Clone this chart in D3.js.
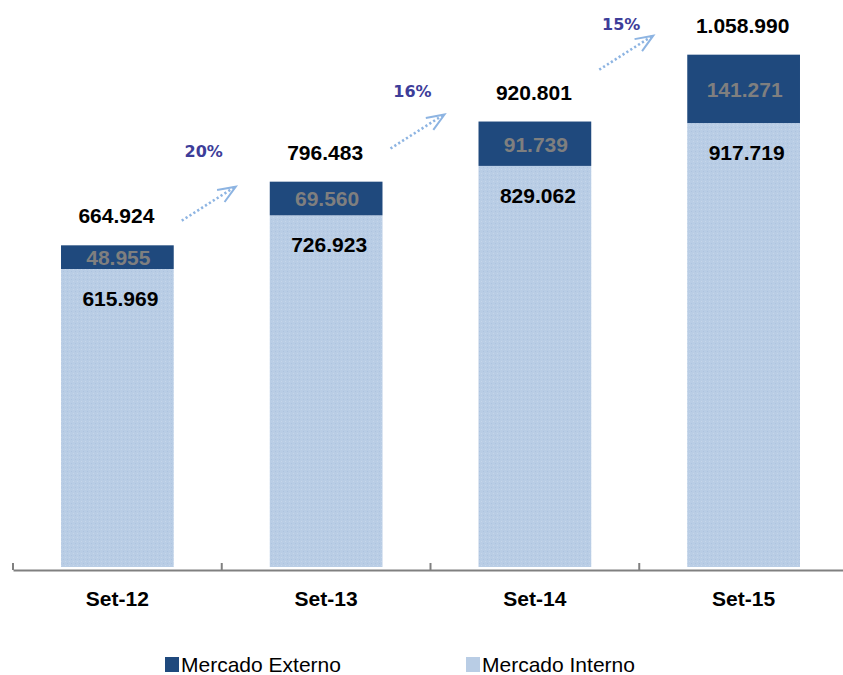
<!DOCTYPE html>
<html>
<head>
<meta charset="utf-8">
<script src="https://cdn.jsdelivr.net/npm/d3@7"></script>
<style>
  body { margin: 0; background: #fff; }
  svg { display: block; }
</style>
</head>
<body>
<svg id="svg" width="843" height="675"></svg>
<script>
var categories = ["Set-12", "Set-13", "Set-14", "Set-15"]
var interno = [615969, 726923, 829062, 917719]
var externo = [48955, 69560, 91739, 141271]
var totals = [664924, 796483, 920801, 1058990]
var growth = ["20%", "16%", "15%"]
var seriesNames = ["Mercado Externo", "Mercado Interno"]

var fmt = d3.formatLocale({ decimal: ",", thousands: ".", grouping: [3], currency: ["", ""] }).format(",d")

var svg = d3.select("#svg")

var colors = { externo: "#1f497d", interno: "#b9cde5", arrow: "#8db4e2" }

// light dotted texture for the interno bars
var defs = svg.append("defs")
var pat = defs.append("pattern")
    .attr("id", "dots")
    .attr("width", 4)
    .attr("height", 4)
    .attr("patternUnits", "userSpaceOnUse")
pat.append("rect").attr("width", 4).attr("height", 4).attr("fill", colors.interno)
pat.append("rect").attr("x", 1).attr("y", 1).attr("width", 1).attr("height", 1).attr("fill", "#c6d6ea")
pat.append("rect").attr("x", 3).attr("y", 3).attr("width", 1).attr("height", 1).attr("fill", "#adc3df")

var x = d3.scaleBand()
    .domain(categories)
    .range([13, 848])
    .paddingInner(0.46)
    .paddingOuter(0.23)

var y = d3.scaleLinear()
    .domain([0, 1172000])
    .range([567, 0])

var data = categories.map(function (c, i) {
    return { cat: c, interno: interno[i], externo: externo[i], total: totals[i] }
})

function cx(d) {
    return x(d.cat) + x.bandwidth() / 2
}

function label(sel) {
    return sel.attr("text-anchor", "middle")
        .attr("font-family", "Liberation Sans, Arial, sans-serif")
        .attr("font-weight", "bold")
        .attr("font-size", 21)
}

var bars = svg.append("g").selectAll(".bar")
    .data(data)
    .enter().append("g")
    .attr("class", "bar")

bars.append("rect")
    .attr("x", d => x(d.cat))
    .attr("width", x.bandwidth())
    .attr("y", d => y(d.interno))
    .attr("height", d => y(0) - y(d.interno))
    .attr("fill", "url(#dots)")

bars.append("rect")
    .attr("x", d => x(d.cat))
    .attr("width", x.bandwidth())
    .attr("y", d => y(d.interno + d.externo))
    .attr("height", d => y(d.interno) - y(d.interno + d.externo))
    .attr("fill", colors.externo)

// externo values (grey, inside dark segment)
bars.append("text").call(label)
    .attr("x", d => cx(d) + 1)
    .attr("y", d => (y(d.interno) + y(d.interno + d.externo)) / 2 + 8)
    .attr("fill", "#7f7f7f")
    .text(d => fmt(d.externo))

// interno values
bars.append("text").call(label)
    .attr("x", d => cx(d) + 3)
    .attr("y", d => y(d.interno) + 37)
    .attr("fill", "#000")
    .text(d => fmt(d.interno))

// totals
bars.append("text").call(label)
    .attr("x", d => cx(d) - 1)
    .attr("y", d => y(d.total) - 22)
    .attr("fill", "#000")
    .text(d => fmt(d.total))

// x axis
var axis = svg.append("g")
    .attr("transform", "translate(0,570)")
    .call(d3.axisBottom(x).tickSize(0).tickPadding(21))
axis.select(".domain").attr("stroke", "#808080").attr("stroke-width", 2)
axis.selectAll("text")
    .attr("font-family", "Liberation Sans, Arial, sans-serif")
    .attr("font-weight", "bold")
    .attr("font-size", 21)
    .attr("fill", "#000")
// tick marks between categories
var edges = categories.map(c => x(c) - x.step() * x.paddingOuter()).concat([x.range()[1]])
axis.selectAll(".sep")
    .data(edges)
    .enter().append("line")
    .attr("x1", d => d).attr("x2", d => d)
    .attr("y1", 0).attr("y2", -7)
    .attr("stroke", "#808080")
    .attr("stroke-width", 2)

// growth arrows between bars
function gap(i) {
    return (x(categories[i]) + x.bandwidth() + x(categories[i + 1])) / 2
}

var arrows = svg.append("g").selectAll(".growth")
    .data(growth)
    .enter().append("g")
    .attr("class", "growth")
    .attr("transform", function (d, i) {
        return "translate(" + (gap(i) - 13) + "," + (y(totals[i + 1]) + 22 - 12 * i) + ")"
    })

var ax = 27, ay = -17
arrows.append("line")
    .attr("x1", -ax).attr("y1", -ay)
    .attr("x2", ax - 2).attr("y2", ay + 1)
    .attr("stroke", colors.arrow)
    .attr("stroke-width", 2.6)
    .attr("stroke-dasharray", "2.2,2.4")

// open arrowhead
arrows.append("path")
    .attr("d", function () {
        var ang = Math.atan2(ay, ax), len = 19, spread = 0.38
        var p1 = [ax - len * Math.cos(ang - spread), ay - len * Math.sin(ang - spread)]
        var p2 = [ax - len * Math.cos(ang + spread), ay - len * Math.sin(ang + spread)]
        return "M" + p1 + "L" + ax + "," + ay + "L" + p2
    })
    .attr("fill", "none")
    .attr("stroke", colors.arrow)
    .attr("stroke-width", 2)

svg.append("g").selectAll(".pct")
    .data(growth)
    .enter().append("text")
    .attr("class", "pct")
    .attr("x", (d, i) => gap(i) - 18)
    .attr("y", (d, i) => y(totals[i + 1]) - 25)
    .attr("text-anchor", "middle")
    .attr("font-family", "DejaVu Sans, Verdana, sans-serif")
    .attr("font-weight", "bold")
    .attr("font-size", 16)
    .attr("fill", "#3d3d99")
    .text(d => d)

// legend
var legend = svg.append("g").selectAll(".legend")
    .data(seriesNames)
    .enter().append("g")
    .attr("class", "legend")
    .attr("transform", (d, i) => "translate(" + (165 + i * 301) + ",657)")

legend.append("rect")
    .attr("width", 14)
    .attr("height", 15)
    .attr("fill", (d, i) => i === 0 ? colors.externo : colors.interno)

legend.append("text")
    .attr("x", 16)
    .attr("y", 14.5)
    .attr("font-family", "Liberation Sans, Arial, sans-serif")
    .attr("font-size", 21)
    .attr("fill", "#000")
    .text(d => d)
</script>
</body>
</html>
